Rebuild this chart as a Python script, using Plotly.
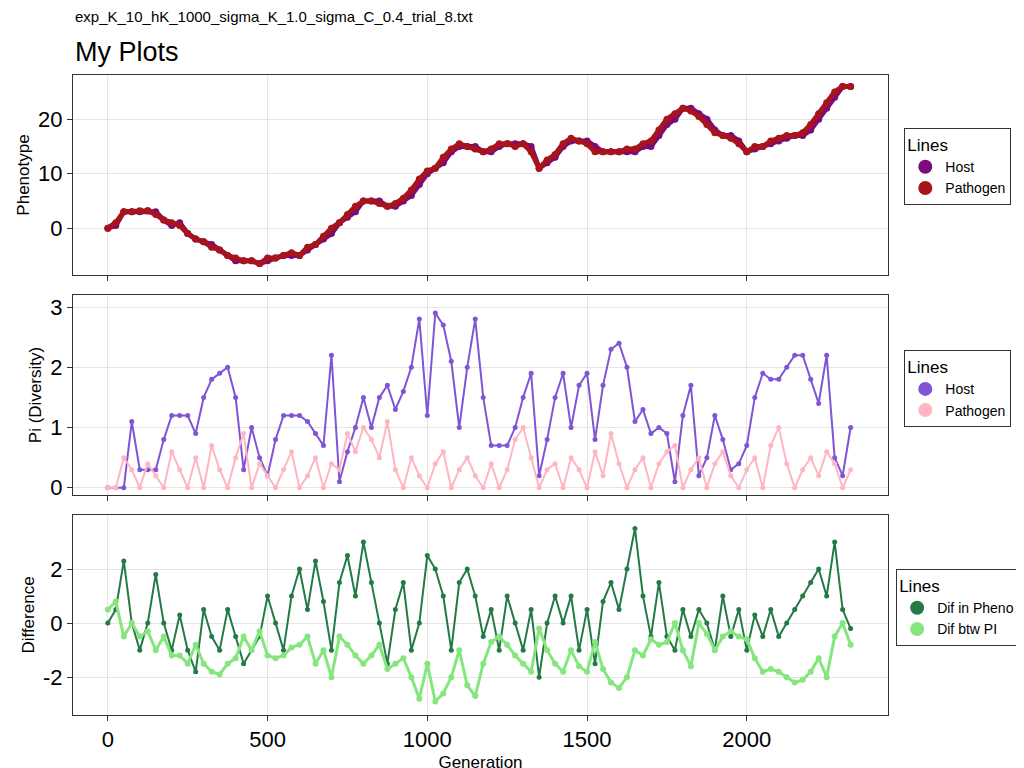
import plotly.graph_objects as go
from plotly.subplots import make_subplots

# generation grid used for sampled readings (every 25 generations)
gen = list(range(0, 2326, 25))

host_pheno = [0, 0.5, 3, 3, 3, 3.2, 3, 1.5, 0.5, 1, -1, -2, -2.5, -3, -4, -5,
              -6, -6, -6, -6.5, -6, -5.5, -5, -5, -5, -4, -3, -2, -1, 1, 2, 3,
              5, 5, 5, 4, 4, 5, 6, 8, 10, 11, 12, 14, 15, 15, 15, 14, 14, 15,
              15.5, 15.5, 15.5, 15, 11, 12, 13, 15, 16, 16, 16, 15, 14, 14, 14,
              14, 14, 15, 15, 17, 19, 20, 22, 22, 21, 20, 18, 17, 17, 16, 14,
              14.5, 15, 15.5, 16, 16.5, 17, 17, 18, 20, 22, 24, 26, 26]
path_pheno = [0, 1, 3, 3, 3.2, 3.2, 2.5, 1.5, 1, 0.5, -1, -2, -2.5, -3.5, -4, -5,
              -5.5, -6, -6, -6.5, -5.5, -5.5, -5, -4.5, -5, -3.5, -3, -1.5, 0, 1, 2.5, 4,
              5, 5, 4.5, 4, 4.5, 5.5, 7, 9, 10.5, 11, 13, 14.5, 15.5, 15, 14.5, 14, 14.5, 15.5,
              15.5, 15, 15.5, 14, 11, 12.5, 13.5, 15.5, 16.5, 16, 15.5, 14, 14, 14, 14,
              14.5, 14.5, 15.5, 16, 18, 20, 21, 22, 21.5, 20.5, 19, 17.5, 17, 16.5, 15.5, 14,
              15, 15, 16, 16.5, 17, 17, 17.5, 19, 21, 23, 25, 26, 26]

host_pi = [0, 0, 0, 1.1, 0.3, 0.3, 0.3, 0.8, 1.2, 1.2, 1.2, 0.9, 1.5, 1.8, 1.9, 2.0,
           1.5, 0.3, 1.0, 0.5, 0.2, 0.8, 1.2, 1.2, 1.2, 1.1, 0.9, 0.7, 2.2, 0.1, 0.6, 1.0,
           1.5, 1.0, 1.5, 1.7, 1.3, 1.6, 2.0, 2.8, 1.2, 2.9, 2.7, 2.1, 1.0, 2.0, 2.8, 1.5,
           0.7, 0.7, 0.7, 1.0, 1.5, 1.9, 0.2, 0.8, 1.5, 1.9, 1.0, 1.7, 1.9, 0.8, 1.7, 2.3,
           2.4, 2.0, 1.1, 1.3, 0.9, 1.0, 0.9, 0.1, 1.2, 1.7, 0.2, 0.5, 1.2, 0.8, 0.3, 0.4,
           0.7, 1.5, 1.9, 1.8, 1.8, 2.0, 2.2, 2.2, 1.8, 1.4, 2.2, 0.5, 0.2, 1.0]
path_pi = [0, 0, 0.5, 0.3, 0, 0.4, 0.2, 0, 0.6, 0.3, 0, 0.5, 0, 0.7, 0.3, 0,
           0.5, 0.9, 0, 0.4, 0.2, 0, 0.3, 0.6, 0, 0.2, 0.5, 0, 0.4, 0.3, 0.9, 0.6,
           1.0, 0.8, 0.5, 1.1, 0.3, 0, 0.5, 0.2, 0, 0.4, 0.6, 0, 0.3, 0.5, 0.2, 0,
           0.4, 0, 0.3, 0.8, 1.0, 0.5, 0, 0.3, 0.4, 0, 0.5, 0.3, 0, 0.6, 0.2, 0.9,
           0.4, 0, 0.3, 0.5, 0, 0.4, 0.6, 0.7, 0, 0.3, 0.5, 0, 0.4, 0.6, 0.2, 0,
           0.3, 0.5, 0, 0.7, 1.0, 0.4, 0, 0.3, 0.5, 0.2, 0.6, 0.4, 0, 0.3]

dif_pheno = [0, 0.5, 2.3, 0, -1, 0, 1.8, 0, -1, 0.3, -1, -1.8, 0.5, -0.5, -1, 0.5,
             -0.5, -1.5, -1, -0.5, 1, 0, -1, 1, 2, 0.5, 2.3, 0.8, -1, 1.5, 2.5, 1,
             3, 1.5, 0, -1.5, 0.5, 1.5, -1, 0, 2.5, 2, 1, -1, 1.5, 2, 1, -0.5,
             0.5, -1, 1, 0, -1, 0.5, -2, 0, 1, 0, 1, -1, 0.5, -1.5, 0.8, 1.5,
             0.5, 2, 3.5, 1, -0.5, 1.5, -0.5, -1, 0.5, -0.5, 0.5, 0, -1, 1, -0.5, 0.5,
             -1, 0.3, -0.5, 0.5, -0.5, 0, 0.5, 1, 1.5, 2, 1, 3, 0.5, -0.2]
dif_pi = [0.5, 0.8, -0.5, 0, -0.5, -0.3, -1, -0.5, -1.2, -1.2, -1.5, -0.8, -1.5, -1.8, -1.9, -1.5,
          -1.3, -0.5, -1, -0.3, -1.2, -1.3, -1.2, -0.9, -0.8, -0.5, -1.5, -1, -2, -0.5, -0.8, -1.2,
          -1.5, -1.2, -0.8, -1.7, -1.5, -1.3, -2, -2.8, -1.5, -2.9, -2.6, -2, -1, -2.3, -2.7, -1.5,
          -0.7, -0.5, -0.8, -1.2, -1.5, -1.8, -0.2, -1, -1.5, -1.8, -1, -1.6, -1.8, -0.7, -1.7, -2.2,
          -2.4, -2, -1, -1.2, -0.6, -0.8, -0.7, 0, -1, -1.6, 0, -0.4, -1, -0.5, -0.3, -0.5,
          -0.6, -1.3, -1.8, -1.7, -1.8, -2, -2.2, -2.1, -1.8, -1.3, -2, -0.5, 0, -0.8]

fig = make_subplots(rows=3, cols=1, shared_xaxes=True, vertical_spacing=0.03125)

def add(y, name, color, row, legend, size, width):
    fig.add_trace(go.Scatter(x=gen, y=y, name=name, mode="lines+markers",
                             line=dict(color=color, width=width),
                             marker=dict(color=color, size=size),
                             legend=legend, showlegend=False), row=row, col=1)
    # legend-only dot entry
    fig.add_trace(go.Scatter(x=[None], y=[None], name=name, mode="markers",
                             marker=dict(color=color, size=14), legend=legend),
                  row=row, col=1)

add(host_pheno, "Host", "#7B0A7B", 1, "legend", 7, 5)
add(path_pheno, "Pathogen", "#A8141B", 1, "legend", 7, 5)
add(host_pi, "Host", "#7F55D6", 2, "legend2", 5, 2)
add(path_pi, "Pathogen", "#FFB6C1", 2, "legend2", 5, 2)
add(dif_pheno, "Dif in Pheno", "#237A45", 3, "legend3", 5, 2)
add(dif_pi, "Dif btw PI", "#86E67E", 3, "legend3", 6, 3)

ax = dict(showgrid=True, gridcolor="#E5E5E5", showline=True, mirror=True,
          linecolor="#333", linewidth=1, zeroline=False, ticks="outside",
          tickcolor="#333", tickfont=dict(size=22, color="black"), automargin=False)
fig.update_xaxes(**ax, range=[-109, 2442], tickvals=[0, 500, 1000, 1500, 2000])
fig.update_yaxes(**ax)
fig.update_xaxes(title_text="Generation", title_font=dict(size=17),
                 title_standoff=4, row=3, col=1)
fig.update_yaxes(range=[-8.6, 28.1], tickvals=[0, 10, 20], title_text="Phenotype", row=1, col=1)
fig.update_yaxes(range=[-0.12, 3.2], tickvals=[0, 1, 2, 3], title_text="Pi (Diversity)", row=2, col=1)
fig.update_yaxes(range=[-3.4, 4.0], tickvals=[-2, 0, 2], ticktext=["-2", "0", "2"],
                 title_text="Difference", row=3, col=1)
fig.update_yaxes(title_font=dict(size=17), title_standoff=4)

leg = dict(bgcolor="white", bordercolor="#333", borderwidth=1, font=dict(size=14),
           title=dict(text="Lines", font=dict(size=17)), xanchor="left", yanchor="top")
fig.update_layout(
    width=1024, height=768, plot_bgcolor="white", paper_bgcolor="white",
    font=dict(family="Liberation Sans, Arial", color="black"),
    margin=dict(l=65, r=140, t=67, b=61),
    legend=dict(**leg, x=1.02, y=0.917),
    legend2=dict(**leg, x=1.02, y=0.57),
    legend3=dict(**leg, x=1.01, y=0.228),
    annotations=[
        dict(text="exp_K_10_hK_1000_sigma_K_1.0_sigma_C_0.4_trial_8.txt",
             x=0, y=1.075, xref="paper", yref="paper", xanchor="left", yanchor="bottom",
             showarrow=False, font=dict(size=15)),
        dict(text="My Plots", x=0, y=1.01, xref="paper", yref="paper",
             xanchor="left", yanchor="bottom", showarrow=False, font=dict(size=27)),
    ],
)
fig.write_html("out.html")
